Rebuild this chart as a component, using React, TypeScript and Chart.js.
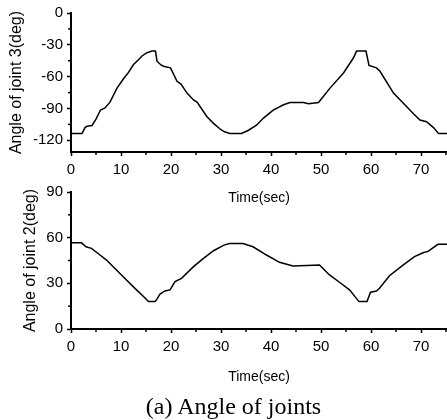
import React, { useEffect, useRef } from "react";
import { Chart, registerables } from "chart.js";

Chart.register(...registerables);

// ---- data ----
const T3 = [0, 2.2, 2.8, 3.2, 4.2, 5.0, 5.9, 6.8, 7.8, 9.2, 10.5, 11.5, 12.5, 13.5, 14.2, 15.2, 16.2, 16.9, 17.2, 18.0, 18.5, 19.9, 21.2, 22.0, 23.2, 24.5, 25.2, 27.2, 28.5, 30.0, 30.7, 31.8, 34.1, 35.5, 37.1, 38.5, 40.5, 41.5, 42.5, 43.8, 46.5, 47.5, 49.5, 51.8, 54.5, 56.5, 57.1, 59.0, 59.6, 61.1, 61.8, 64.5, 67.1, 68.5, 69.8, 71.1, 72.5, 73.5, 75.3];
const J3 = [-113.6, -113.6, -108, -106.7, -106, -100, -91.4, -89.5, -84, -70.8, -62, -56, -48.6, -44, -40.5, -37.4, -35.9, -35.9, -45.4, -49, -50.2, -51.7, -64.4, -67, -75.5, -81.9, -84, -97.8, -104, -110, -112, -113.6, -113.6, -110.5, -105.7, -99, -91.4, -89, -86.5, -84.4, -84.4, -85.5, -84.4, -70.8, -56.5, -42.2, -35.9, -35.9, -49.5, -51.7, -54.9, -75.5, -88.2, -95, -100.9, -102.5, -108, -113.6, -113.6];

const T2 = [0, 2.1, 3.0, 4.1, 5.8, 7.1, 9.1, 11.1, 13.1, 14.5, 15.5, 16.8, 17.1, 17.8, 18.8, 19.8, 20.8, 22.1, 24.5, 26.5, 28.5, 30.6, 31.7, 34.4, 36.4, 39.1, 41.7, 44.4, 47.1, 49.7, 51.7, 53.7, 55.7, 57.6, 59.2, 59.9, 61.1, 61.7, 63.7, 66.4, 68.7, 70.4, 71.4, 73.4, 75.3];
const J2 = [56.6, 56.6, 54, 53, 48.6, 45.3, 38.8, 32.2, 25.7, 21.3, 18, 18, 19.2, 22.9, 25, 25.7, 31.1, 33.3, 41, 46.4, 51.4, 55.1, 56.2, 56.2, 54, 48.6, 43.8, 41.4, 41.7, 42, 35.5, 30.7, 25.7, 18, 18, 24.2, 25, 26.8, 35, 42, 47.5, 50.1, 51, 55.6, 55.6];

const X_TICKS = [0, 10, 20, 30, 40, 50, 60, 70];
const X_MINOR = [5, 15, 25, 35, 45, 55, 65, 75];
const Y3_TICKS = [-120, -90, -60, -30, 0];
const Y3_MINOR = [-105, -75, -45, -15];
const Y2_TICKS = [0, 30, 60, 90];
const Y2_MINOR = [15, 45, 75];

const X_TITLE = "Time(sec)";
const Y3_TITLE = "Angle of joint 3(deg)";
const Y2_TITLE = "Angle of joint 2(deg)";
const CAPTION = "(a) Angle of joints";

const SANS = "'Liberation Sans', Arial, sans-serif";

const minorTickPlugin = {
  id: "minorTicks",
  afterDraw(chart: any) {
    const ctx = chart.ctx;
    const mo = chart.options.plugins.minorTicks || {};
    ctx.save();
    ctx.strokeStyle = "#000";
    ctx.lineWidth = 1.5;
    const xs = chart.scales.x;
    const ys = chart.scales.y;
    (mo.x || []).forEach((v: number) => {
      const px = xs.getPixelForValue(v);
      if (px > xs.right + 0.5) return;
      ctx.beginPath();
      ctx.moveTo(px, xs.top);
      ctx.lineTo(px, xs.top + 3);
      ctx.stroke();
    });
    (mo.y || []).forEach((v: number) => {
      const py = ys.getPixelForValue(v);
      ctx.beginPath();
      ctx.moveTo(ys.right, py);
      ctx.lineTo(ys.right - 3, py);
      ctx.stroke();
    });
    ctx.restore();
  },
};

function makeConfig(o: {
  t: number[]; v: number[]; yMin: number; yMax: number; yTicks: number[]; yMinor: number[];
  yTitle: string; padTop: number; xHeight: number; yTitlePad: number; xTitlePad: number;
}) {
  return {
    type: "line" as const,
    data: {
      datasets: [
        {
          data: o.t.map((x, i) => ({ x, y: o.v[i] })),
          borderColor: "#000",
          borderWidth: 1.5,
          pointRadius: 0,
          tension: 0,
          fill: false,
        },
      ],
    },
    options: {
      animation: false,
      responsive: false,
      layout: { padding: { top: o.padTop, left: 0, right: 0, bottom: 0 } },
      plugins: {
        legend: { display: false },
        tooltip: { enabled: false },
        minorTicks: { x: X_MINOR, y: o.yMinor },
      },
      scales: {
        x: {
          type: "linear",
          min: 0,
          max: 75.2,
          afterBuildTicks: (s: any) => { s.ticks = X_TICKS.map((value) => ({ value })); },
          afterFit: (s: any) => { s.height = o.xHeight; },
          border: { display: true, color: "#000", width: 2 },
          grid: { drawOnChartArea: false, drawTicks: true, tickLength: 4, tickColor: "#000", tickWidth: 1.5 },
          ticks: { color: "#000", padding: 5, maxRotation: 0, autoSkip: false, font: { family: SANS, size: 15 } },
          title: { display: true, text: X_TITLE, color: "#000", font: { family: SANS, size: 14 }, padding: { top: 0, bottom: o.xTitlePad } },
        },
        y: {
          type: "linear",
          min: o.yMin,
          max: o.yMax,
          afterBuildTicks: (s: any) => { s.ticks = o.yTicks.map((value) => ({ value })); },
          afterFit: (s: any) => { s.width = 71; },
          border: { display: true, color: "#000", width: 2 },
          grid: { drawOnChartArea: false, drawTicks: true, tickLength: 4, tickColor: "#000", tickWidth: 1.5 },
          ticks: { color: "#000", padding: 4, autoSkip: false, font: { family: SANS, size: 15 } },
          title: { display: true, text: o.yTitle, color: "#000", font: { family: SANS, size: 16 }, padding: { top: o.yTitlePad, bottom: 0 } },
        },
      },
    },
    plugins: [minorTickPlugin],
  };
}

function ChartCanvas(props: { config: any; top: number; height: number }) {
  const ref = useRef<HTMLCanvasElement | null>(null);
  useEffect(() => {
    if (!ref.current) return;
    const chart = new Chart(ref.current, props.config);
    return () => chart.destroy();
  }, []);
  return (
    <canvas
      ref={ref}
      width={447}
      height={props.height}
      style={{ position: "absolute", left: 0, top: props.top, width: 447, height: props.height }}
    />
  );
}

export default function App() {
  const topCfg = makeConfig({
    t: T3, v: J3, yMin: -131, yMax: 0, yTicks: Y3_TICKS, yMinor: Y3_MINOR,
    yTitle: Y3_TITLE, padTop: 13, xHeight: 58, yTitlePad: 7, xTitlePad: 3,
  });
  const botCfg = makeConfig({
    t: T2, v: J2, yMin: 0, yMax: 90, yTicks: Y2_TICKS, yMinor: Y2_MINOR,
    yTitle: Y2_TITLE, padTop: 14, xHeight: 59, yTitlePad: 21, xTitlePad: 2,
  });
  return (
    <div style={{ position: "fixed", left: 0, top: 0, width: 447, height: 420, background: "#fff", overflow: "hidden" }}>
      <ChartCanvas config={topCfg} top={0} height={210} />
      <ChartCanvas config={botCfg} top={178} height={210} />
      <div
        style={{
          position: "absolute", left: 0, top: 394, width: 467, textAlign: "center",
          fontFamily: "'Liberation Serif', 'Times New Roman', serif", fontSize: 24, lineHeight: "24px", color: "#000",
        }}
      >
        {CAPTION}
      </div>
    </div>
  );
}
